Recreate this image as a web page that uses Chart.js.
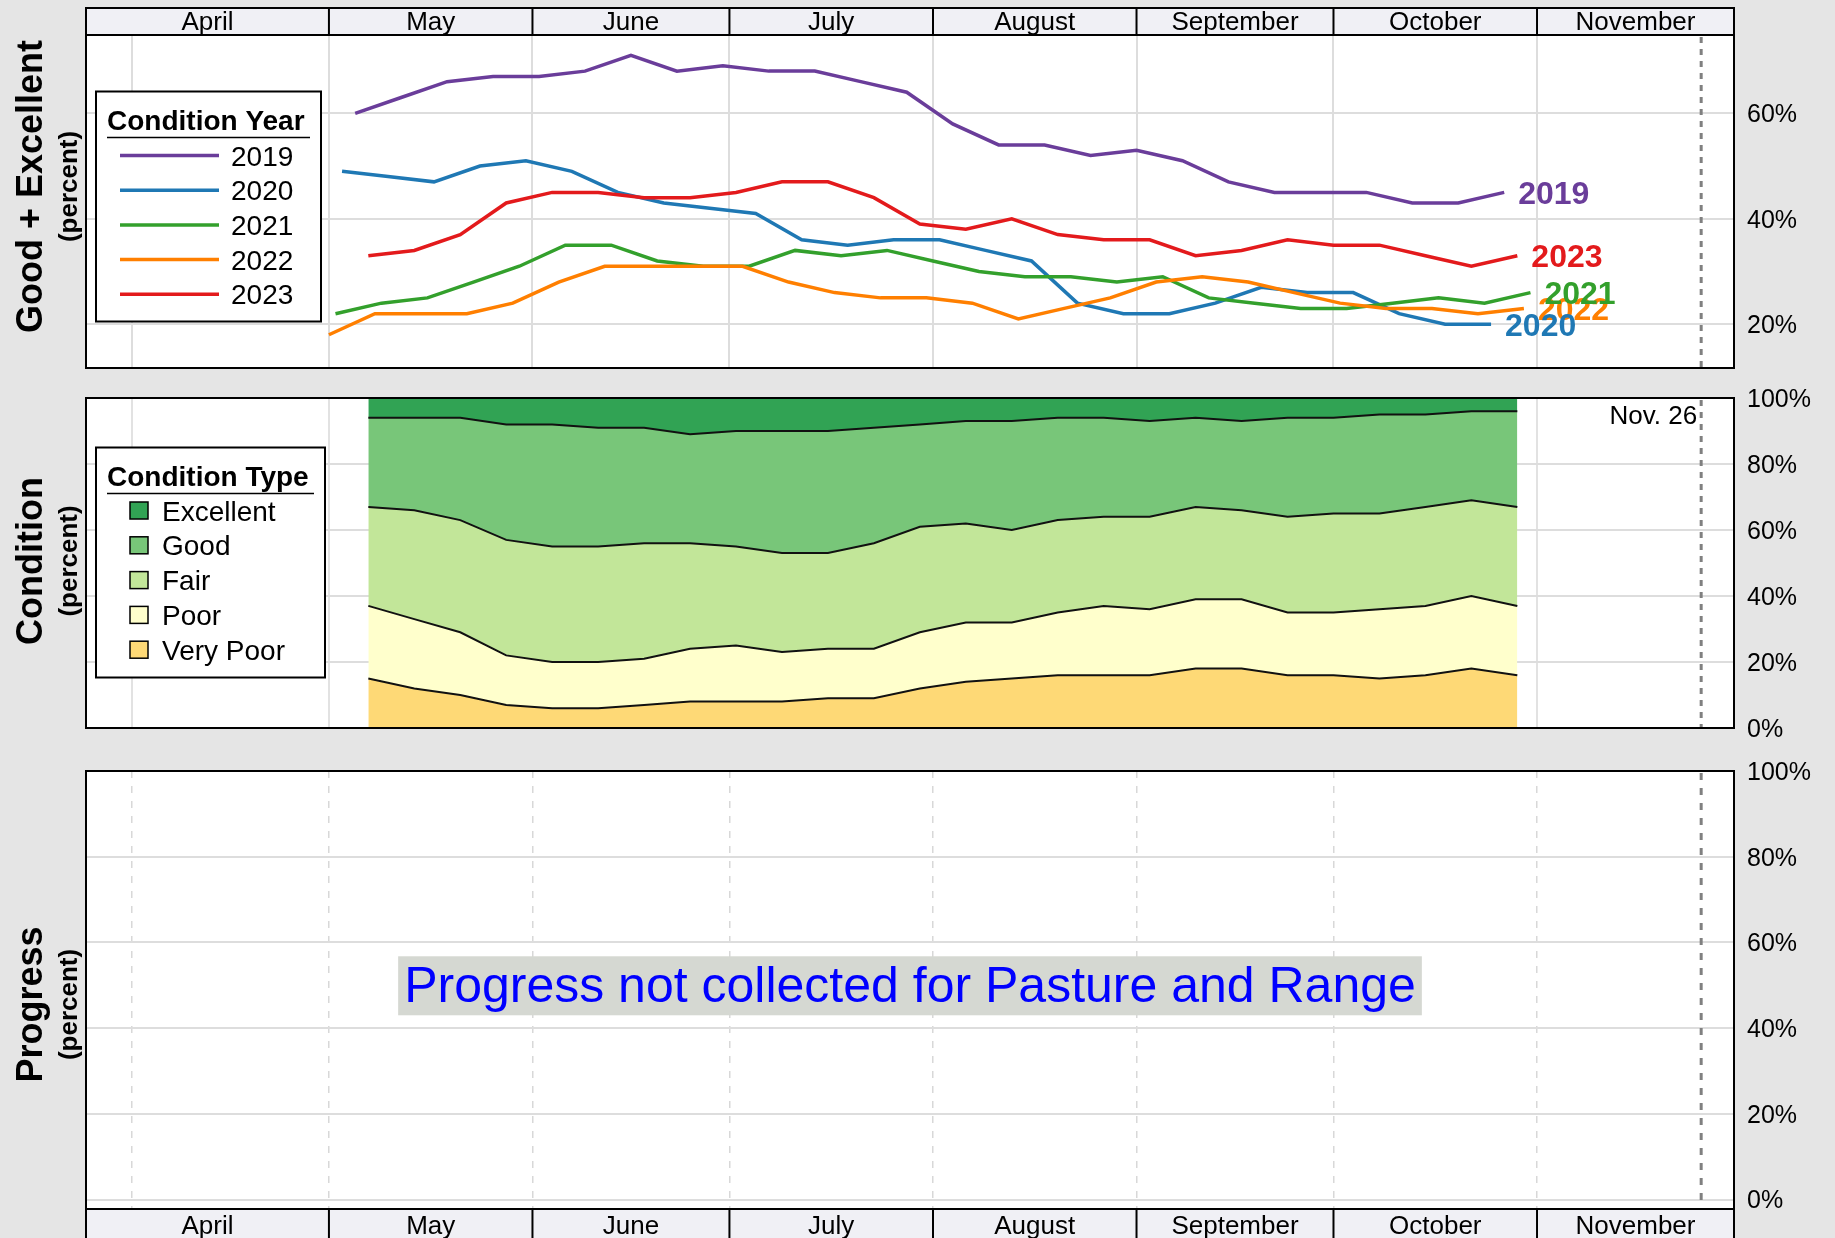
<!DOCTYPE html>
<html>
<head>
<meta charset="utf-8">
<title>Pasture and Range Condition</title>
<script src="https://cdn.jsdelivr.net/npm/chart.js@4.4.1/dist/chart.umd.min.js"></script>
<style>
  html, body { margin: 0; padding: 0; background: #e5e5e5; }
  #page { position: relative; width: 1835px; height: 1238px; overflow: hidden; }
  canvas { position: absolute; left: 0; }
</style>
</head>
<body>
<div id="page">
  <canvas id="gePanel" width="1835" height="400" style="top:0"></canvas>
  <canvas id="conditionPanel" width="1835" height="390" style="top:370px"></canvas>
  <canvas id="progressPanel" width="1835" height="498" style="top:740px"></canvas>
</div>
<script>
const fontName = "'Liberation Sans', Arial, sans-serif";

const monthNames = ['April', 'May', 'June', 'July', 'August', 'September', 'October', 'November'];
const axisStart = [3, 25];
const axisEnd = [12, 1];
const reportDate = [11, 26];
const reportLabel = 'Nov. 26';

// Good + Excellent, weekly, per year
const conditionYears = ['2019', '2020', '2021', '2022', '2023'];
const yearColors = ['#6a3d9a', '#1f78b4', '#33a02c', '#ff7f00', '#e31a1c'];
const firstWeekEnding = [[5, 5], [5, 3], [5, 2], [5, 1], [5, 7]];
const goodExcellent2019 = [60, 63, 66, 67, 67, 68, 71, 68, 69, 68, 68, 66, 64, 58, 54, 54, 52, 53, 51, 47, 45, 45, 45, 43, 43, 45];
const goodExcellent2020 = [49, 48, 47, 50, 51, 49, 45, 43, 42, 41, 36, 35, 36, 36, 34, 32, 24, 22, 22, 24, 27, 26, 26, 22, 20, 20];
const goodExcellent2021 = [22, 24, 25, 28, 31, 35, 35, 32, 31, 31, 34, 33, 34, 32, 30, 29, 29, 28, 29, 25, 24, 23, 23, 24, 25, 24, 26];
const goodExcellent2022 = [18, 22, 22, 22, 24, 28, 31, 31, 31, 31, 28, 26, 25, 25, 24, 21, 23, 25, 28, 29, 28, 26, 24, 23, 23, 22, 23];
const goodExcellent2023 = [33, 34, 37, 43, 45, 45, 44, 44, 45, 47, 47, 44, 39, 38, 40, 37, 36, 36, 33, 34, 36, 35, 35, 33, 31, 33];
const geTicks = [20, 40, 60];

// 2023 condition by type, weekly from May 7
const conditionStart = [5, 7];
const conditionTypes = ['Excellent', 'Good', 'Fair', 'Poor', 'Very Poor'];
const conditionColors = ['#31a354', '#78c679', '#c2e699', '#ffffcc', '#fed976'];
const excellentPct = [6, 6, 6, 8, 8, 9, 9, 11, 10, 10, 10, 9, 8, 7, 7, 6, 6, 7, 6, 7, 6, 6, 5, 5, 4, 4];
const goodPct = [27, 28, 31, 35, 37, 36, 35, 33, 35, 37, 37, 35, 31, 31, 33, 31, 30, 29, 27, 27, 30, 29, 30, 28, 27, 29];
const fairPct = [30, 33, 34, 35, 35, 35, 35, 32, 30, 30, 29, 32, 32, 30, 28, 28, 27, 28, 28, 27, 29, 30, 29, 30, 29, 30];
const poorPct = [22, 21, 19, 15, 14, 14, 14, 16, 17, 15, 15, 15, 17, 18, 17, 19, 21, 20, 21, 21, 19, 19, 21, 21, 22, 21];
const veryPoorPct = [15, 12, 10, 7, 6, 6, 7, 8, 8, 8, 9, 9, 12, 14, 15, 16, 16, 16, 18, 18, 16, 16, 15, 16, 18, 16];
const percentTicks = [0, 20, 40, 60, 80, 100];

const progressValues = [];
const progressNote = 'Progress not collected for Pasture and Range';

function dayOf(month, day) {
  return (Date.UTC(2001, month - 1, day) - Date.UTC(2001, 3, 1)) / 86400000;
}

const xMin = dayOf(axisStart[0], axisStart[1]);
const xMax = dayOf(axisEnd[0], axisEnd[1]);
const monthStarts = monthNames.map((name, i) => dayOf(4 + i, 1));

function weekly(start, values) {
  const first = dayOf(start[0], start[1]);
  return values.map((v, k) => ({ x: first + 7 * k, y: v }));
}

function monthAxis(dash, color, width) {
  return {
    type: 'linear',
    min: xMin,
    max: xMax,
    afterBuildTicks: axis => { axis.ticks = monthStarts.map(v => ({ value: v })); },
    afterFit: axis => { axis.height = 0; },
    ticks: { display: false },
    border: { display: false, dash: dash },
    grid: { color: color, lineWidth: width, drawTicks: false },
  };
}

function percentAxis(min, max, tickValues) {
  return {
    position: 'right',
    min: min,
    max: max,
    afterBuildTicks: axis => { axis.ticks = tickValues.map(v => ({ value: v })); },
    afterFit: axis => { axis.width = 101; },
    ticks: { padding: 13, labelOffset: 2, color: '#000', font: { size: 25 }, callback: v => v + '%' },
    border: { display: false },
    grid: { color: '#dddddd', lineWidth: 2, drawTicks: false },
  };
}

function drawMonthBand(chart, side) {
  const { ctx, chartArea: area } = chart;
  const x = chart.scales.x;
  const h = side === 'top' ? 27 : 31;
  const top = side === 'top' ? area.top - h : area.bottom;
  ctx.fillStyle = '#f0f0f5';
  ctx.fillRect(area.left, top, area.right - area.left, h);
  ctx.strokeStyle = '#000';
  ctx.lineWidth = 2;
  ctx.strokeRect(area.left, top, area.right - area.left, h);
  ctx.font = '26px ' + fontName;
  ctx.fillStyle = '#000';
  ctx.textAlign = 'center';
  ctx.textBaseline = 'alphabetic';
  monthStarts.forEach((start, i) => {
    const from = x.getPixelForValue(i === 0 ? xMin : start);
    const to = x.getPixelForValue(i + 1 < monthStarts.length ? monthStarts[i + 1] : xMax);
    if (i > 0) {
      ctx.beginPath();
      ctx.moveTo(from, top);
      ctx.lineTo(from, top + h);
      ctx.stroke();
    }
    ctx.fillText(monthNames[i], (from + to) / 2, side === 'top' ? top + 22 : top + 25);
  });
}

function panelFrame(cfg) {
  return {
    id: 'panelFrame',
    beforeDraw(chart) {
      const { ctx, chartArea: area } = chart;
      ctx.save();
      ctx.fillStyle = '#fff';
      ctx.fillRect(area.left, area.top, area.right - area.left, area.bottom - area.top);
      ctx.restore();
    },
    afterDraw(chart) {
      const { ctx, chartArea: area } = chart;
      const dashX = chart.scales.x.getPixelForValue(dayOf(reportDate[0], reportDate[1]));
      ctx.save();
      ctx.strokeStyle = '#808080';
      ctx.lineWidth = 3;
      ctx.setLineDash(cfg.dash);
      ctx.beginPath();
      ctx.moveTo(dashX, area.top + 2);
      ctx.lineTo(dashX, area.bottom);
      ctx.stroke();
      ctx.setLineDash([]);

      ctx.strokeStyle = '#000';
      ctx.lineWidth = 2;
      ctx.strokeRect(area.left, area.top, area.right - area.left, area.bottom - area.top);
      if (cfg.band) drawMonthBand(chart, cfg.band);

      if (cfg.reportLabel) {
        ctx.font = '26px ' + fontName;
        ctx.fillStyle = '#000';
        ctx.textAlign = 'right';
        ctx.textBaseline = 'alphabetic';
        ctx.fillText(reportLabel, dashX - 4, area.top + 26);
      }

      ctx.fillStyle = '#000';
      ctx.textAlign = 'center';
      ctx.textBaseline = 'alphabetic';
      ctx.save();
      ctx.translate(42, cfg.titleY);
      ctx.rotate(-Math.PI / 2);
      ctx.font = 'bold 36px ' + fontName;
      ctx.fillText(cfg.title, 0, 0);
      ctx.restore();
      ctx.save();
      ctx.translate(77, cfg.titleY);
      ctx.rotate(-Math.PI / 2);
      ctx.font = 'bold 26px ' + fontName;
      ctx.fillText('(percent)', 0, 0);
      ctx.restore();
      ctx.restore();
    }
  };
}

function legendBox(ctx, box, title) {
  ctx.fillStyle = '#fff';
  ctx.fillRect(box.x, box.y, box.w, box.h);
  ctx.strokeStyle = '#000';
  ctx.lineWidth = 2;
  ctx.strokeRect(box.x, box.y, box.w, box.h);
  ctx.fillStyle = '#000';
  ctx.textAlign = 'left';
  ctx.textBaseline = 'alphabetic';
  ctx.font = 'bold 28px ' + fontName;
  ctx.fillText(title, box.x + 11, box.y + 38);
  ctx.lineWidth = 1.5;
  ctx.beginPath();
  ctx.moveTo(box.x + 11, box.y + 46);
  ctx.lineTo(box.x + box.w - 11, box.y + 46);
  ctx.stroke();
  ctx.font = '28px ' + fontName;
}

const yearLegend = {
  id: 'yearLegend',
  afterDraw(chart) {
    const ctx = chart.ctx;
    const box = { x: 96, y: 91.5, w: 225, h: 230 };
    ctx.save();
    legendBox(ctx, box, 'Condition Year');
    conditionYears.forEach((year, i) => {
      const y = box.y + 64 + 34.7 * i;
      ctx.strokeStyle = yearColors[i];
      ctx.lineWidth = 3.5;
      ctx.beginPath();
      ctx.moveTo(120, y);
      ctx.lineTo(219, y);
      ctx.stroke();
      ctx.fillStyle = '#000';
      ctx.fillText(year, 231, y + 10);
    });
    ctx.restore();
  }
};

const typeLegend = {
  id: 'typeLegend',
  afterDraw(chart) {
    const ctx = chart.ctx;
    const box = { x: 96, y: 77.5, w: 229, h: 230 };
    ctx.save();
    legendBox(ctx, box, 'Condition Type');
    conditionTypes.forEach((type, i) => {
      const y = box.y + 63 + 34.8 * i;
      ctx.fillStyle = conditionColors[i];
      ctx.fillRect(130, y - 8.5, 18, 17);
      ctx.strokeStyle = '#000';
      ctx.lineWidth = 1.5;
      ctx.strokeRect(130, y - 8.5, 18, 17);
      ctx.fillStyle = '#000';
      ctx.fillText(type, 162, y + 10);
    });
    ctx.restore();
  }
};

const endLabelOrder = [0, 4, 3, 2, 1];
const endLabels = {
  id: 'endLabels',
  afterDatasetsDraw(chart) {
    const ctx = chart.ctx;
    ctx.save();
    ctx.font = 'bold 32px ' + fontName;
    ctx.textAlign = 'left';
    ctx.textBaseline = 'alphabetic';
    endLabelOrder.forEach(i => {
      const points = chart.getDatasetMeta(i).data;
      const last = points[points.length - 1];
      ctx.fillStyle = yearColors[i];
      ctx.fillText(conditionYears[i], last.x + 14, last.y + 11.5);
    });
    ctx.restore();
  }
};

const noteBox = {
  id: 'noteBox',
  afterDraw(chart) {
    const { ctx, chartArea: area } = chart;
    const cx = (area.left + area.right) / 2;
    const cy = chart.scales.y.getPixelForValue(50);
    ctx.save();
    ctx.font = '50px ' + fontName;
    const w = ctx.measureText(progressNote).width + 12;
    ctx.fillStyle = '#d5d8d2';
    ctx.fillRect(cx - w / 2, cy - 29, w, 59);
    ctx.fillStyle = '#0000ff';
    ctx.textAlign = 'center';
    ctx.textBaseline = 'alphabetic';
    ctx.fillText(progressNote, cx, cy + 17);
    ctx.restore();
  }
};

Chart.defaults.font.family = fontName;
Chart.defaults.color = '#000';

const baseOptions = {
  responsive: false,
  animation: false,
  devicePixelRatio: 1,
  plugins: { legend: { display: false }, tooltip: { enabled: false } },
  elements: { point: { radius: 0 }, line: { tension: 0 } },
};

const geSeries = [goodExcellent2019, goodExcellent2020, goodExcellent2021, goodExcellent2022, goodExcellent2023];

new Chart(document.getElementById('gePanel'), {
  type: 'line',
  data: {
    datasets: conditionYears.map((year, i) => ({
      label: year,
      data: weekly(firstWeekEnding[i], geSeries[i]),
      borderColor: yearColors[i],
      borderWidth: 3.5,
      fill: false,
      order: conditionYears.length - i,
    })),
  },
  options: {
    ...baseOptions,
    layout: { padding: { left: 86, top: 35, right: 0, bottom: 32 } },
    scales: {
      x: monthAxis([], '#dddddd', 2),
      y: percentAxis(11.7, 74.85, geTicks),
    },
  },
  plugins: [endLabels, yearLegend, panelFrame({ band: 'top', title: 'Good + Excellent', titleY: 186.5, dash: [6, 6] })],
});

const typeSeries = [veryPoorPct, poorPct, fairPct, goodPct, excellentPct];
const typeNames = [...conditionTypes].reverse();
const typeColors = [...conditionColors].reverse();

new Chart(document.getElementById('conditionPanel'), {
  type: 'line',
  data: {
    datasets: typeSeries.map((values, i) => ({
      label: typeNames[i],
      data: weekly(conditionStart, values),
      borderColor: '#111',
      borderWidth: 2,
      backgroundColor: typeColors[i],
      fill: i === 0 ? 'origin' : '-1',
    })),
  },
  options: {
    ...baseOptions,
    layout: { padding: { left: 86, top: 26, right: 0, bottom: 32 } },
    scales: {
      x: { ...monthAxis([], '#e2e2e2', 2), z: 1 },
      y: { ...percentAxis(0, 100, percentTicks), stacked: true, z: 1 },
    },
  },
  plugins: [typeLegend, panelFrame({ title: 'Condition', titleY: 191, dash: [6, 6], reportLabel: true })],
});

new Chart(document.getElementById('progressPanel'), {
  type: 'line',
  data: { datasets: [{ label: 'Progress', data: progressValues }] },
  options: {
    ...baseOptions,
    layout: { padding: { left: 86, top: 31, right: 0, bottom: 29 } },
    scales: {
      x: monthAxis([7, 8], '#d8d8d8', 1.5),
      y: percentAxis(-2.2, 100, percentTicks),
    },
  },
  plugins: [noteBox, panelFrame({ band: 'bottom', title: 'Progress', titleY: 264.5, dash: [7, 8] })],
});
</script>
</body>
</html>
